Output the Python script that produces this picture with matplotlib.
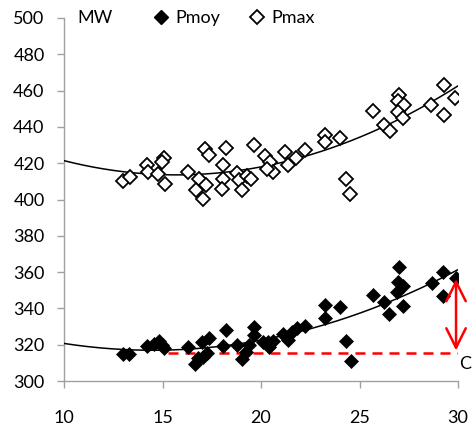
import numpy as np
import matplotlib
matplotlib.use("Agg")
import matplotlib.pyplot as plt
from matplotlib.lines import Line2D

plt.rcParams['font.family'] = ['Lato', 'DejaVu Sans']

# Pmax (open diamonds)
pmax_x = [12.99, 13.35, 14.21, 14.26, 14.77, 15.08, 14.98, 15.13, 16.29, 16.85,
          16.70, 17.06, 17.21, 17.16, 17.36, 18.22, 18.07, 18.07, 18.02, 18.78,
          18.88, 19.04, 19.29, 19.49, 19.64, 20.20, 20.46, 20.61, 20.30, 21.22,
          21.37, 21.78, 22.23, 23.25, 23.25, 24.01, 24.31, 24.52, 25.69, 26.24,
          26.55, 27.01, 26.96, 27.26, 26.96, 27.21, 28.63, 29.29, 29.87, 29.29]
pmax_y = [410.2, 412.4, 419.0, 415.2, 414.0, 423.1, 420.7, 408.5, 415.2, 411.3,
          405.2, 400.3, 408.0, 427.8, 424.5, 428.4, 419.0, 411.3, 405.8, 414.6,
          410.7, 405.2, 412.9, 411.3, 430.0, 424.0, 420.7, 415.2, 416.8, 426.2,
          419.0, 422.9, 427.3, 435.5, 431.7, 433.9, 411.3, 403.0, 448.8, 441.0,
          437.7, 457.6, 454.3, 452.1, 448.2, 444.9, 452.1, 463.1, 455.9, 446.6]

# Pmoy (filled diamonds)
pmoy_x = [12.99, 13.30, 14.21, 14.57, 14.82, 14.97, 15.08, 16.29, 16.65, 16.80,
          17.06, 17.26, 17.00, 17.36, 18.22, 18.07, 18.78, 19.04, 19.24, 19.39,
          19.64, 19.64, 20.10, 20.36, 20.61, 20.41, 21.12, 21.37, 21.57, 21.83,
          22.23, 23.25, 23.25, 24.01, 24.31, 24.57, 25.69, 26.24, 26.50, 27.01,
          26.96, 27.21, 26.90, 27.21, 28.68, 29.24, 29.90, 29.24]
pmoy_y = [314.9, 314.9, 319.3, 320.4, 322.0, 319.8, 318.2, 318.7, 309.4, 312.7,
          313.2, 315.4, 321.5, 323.7, 328.1, 319.3, 319.8, 312.1, 316.0, 319.8,
          329.8, 325.3, 321.5, 321.5, 322.0, 318.7, 325.9, 322.6, 327.0, 329.2,
          330.3, 341.9, 334.7, 340.8, 322.0, 311.0, 347.4, 343.5, 336.9, 362.8,
          354.5, 352.3, 349.0, 341.3, 354.0, 360.0, 356.7, 346.8]

xticks = [10, 15, 20, 25, 30]
yticks = [300, 320, 340, 360, 380, 400, 420, 440, 460, 480, 500]
c_level = 315.3
c_start = 15.3
arrow_x = 29.9
arrow_top = 356.2

fig = plt.figure(figsize=(4.72, 4.28), dpi=100)
ax = fig.add_axes([64/472, 1-381/428, (458-64)/472, (381-18)/428])

xs = np.linspace(10, 30, 200)
cmax = np.polyfit(pmax_x, pmax_y, 2)
cmoy = np.polyfit(pmoy_x, pmoy_y, 2)
ax.plot(xs, np.polyval(cmax, xs), color='black', lw=1.1, zorder=3)
ax.plot(xs, np.polyval(cmoy, xs), color='black', lw=1.1, zorder=3)

ax.plot(pmax_x, pmax_y, linestyle='none', marker='D', ms=7.0, mfc='white',
        mec='black', mew=1.3, zorder=4)
ax.plot(pmoy_x, pmoy_y, linestyle='none', marker='D', ms=7.3, mfc='black',
        mec='black', mew=0.5, zorder=4)

ax.plot([c_start, 30], [c_level, c_level], color='#ff0000', lw=1.8,
        linestyle=(0, (4, 2.8)), zorder=2)
ax.annotate('', xy=(arrow_x, arrow_top), xytext=(arrow_x, c_level + 1.5),
            arrowprops=dict(arrowstyle='<->,head_length=0.7,head_width=0.35',
                            color='#ff0000', lw=1.8, mutation_scale=20,
                            shrinkA=0, shrinkB=0), zorder=5)
ax.text(30.05, 309.5, 'C', fontsize=13, ha='left', va='center')

ax.set_xlim(10, 30)
ax.set_ylim(300, 500)
ax.set_xticks(xticks)
ax.set_yticks(yticks)
ax.tick_params(axis='both', direction='out', length=5, color='#a0a0a0',
               labelsize=13, width=1)
ax.tick_params(axis='x', pad=16)
ax.tick_params(axis='y', pad=9)
for s in ['top', 'right']:
    ax.spines[s].set_visible(False)
for s in ['left', 'bottom']:
    ax.spines[s].set_color('#a0a0a0')
    ax.spines[s].set_linewidth(1)

ax.text(0.033, 1.0, 'MW', transform=ax.transAxes, fontsize=13,
        ha='left', va='center')
handles = [Line2D([], [], linestyle='none', marker='D', ms=7.3, mfc='black', mec='black'),
           Line2D([], [], linestyle='none', marker='D', ms=7.0, mfc='white', mec='black', mew=1.3)]
ax.legend(handles, ['Pmoy', 'Pmax'], ncol=2, frameon=False, fontsize=13,
          loc='center', bbox_to_anchor=(0.43, 1.0), handlelength=1.0,
          handletextpad=0.3, columnspacing=1.5, borderpad=0, borderaxespad=0)

fig.savefig('out.png', dpi=100)
